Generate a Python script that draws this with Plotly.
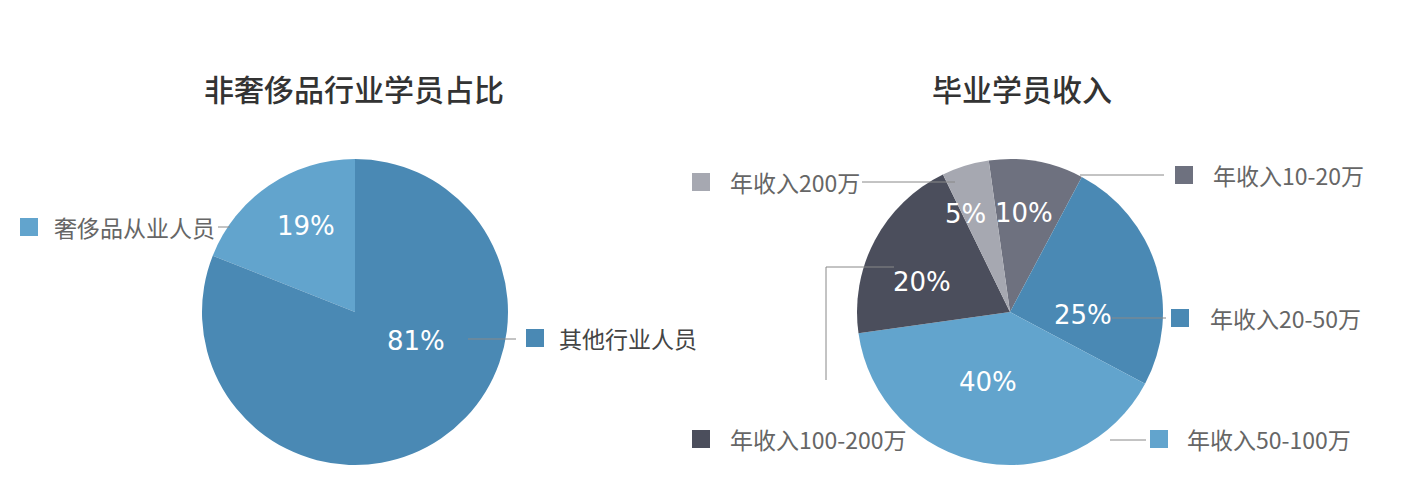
import plotly.graph_objects as go

W, H = 1402, 500
OFF = 8                      # default page body margin
FW, FH = W - 2 * OFF, H - 2 * OFF

# ---- data ----
left_title = "非奢侈品行业学员占比"
left_labels = ["奢侈品从业人员", "其他行业人员"]
left_values = [19, 81]
left_colors = ["#62a4cd", "#4a89b4"]

right_title = "毕业学员收入"
right_labels = ["年收入10-20万", "年收入20-50万", "年收入50-100万", "年收入100-200万", "年收入200万"]
right_values = [10, 25, 40, 20, 5]
right_colors = ["#6e717f", "#4a89b4", "#62a4cd", "#4b4e5c", "#a6a8b1"]

FONT = "Noto Sans CJK SC"
NUMFONT = "DejaVu Sans"


def px(x):
    return (x - OFF) / FW


def py(y):
    return 1 - (y - OFF) / FH


fig = go.Figure()

fig.add_trace(go.Pie(
    labels=left_labels, values=left_values,
    marker=dict(colors=left_colors, line=dict(width=0)),
    sort=False, direction="clockwise", rotation=-360 * left_values[0] / sum(left_values),
    domain=dict(x=[px(202), px(508)], y=[py(466), py(158)]),
    textinfo="none", hoverinfo="label+percent", showlegend=False,
))

fig.add_trace(go.Pie(
    labels=right_labels, values=right_values,
    marker=dict(colors=right_colors, line=dict(width=0)),
    sort=False, direction="clockwise", rotation=-8,
    domain=dict(x=[px(857), px(1163)], y=[py(466), py(158)]),
    textinfo="none", hoverinfo="label+percent", showlegend=False,
))

annotations = []
shapes = []

# titles
for t, x in [(left_title, 354), (right_title, 1022)]:
    annotations.append(dict(text=t, x=px(x), y=py(88), xref="paper", yref="paper",
                            showarrow=False, xanchor="center", yanchor="middle",
                            font=dict(size=30, color="#333333", family=FONT, weight=500)))

# percentage labels inside slices (label position per slice)
pct_pos = {
    left_labels[0]: (306, 226), left_labels[1]: (416, 341),
    right_labels[0]: (1024, 213), right_labels[1]: (1083, 315),
    right_labels[2]: (988, 382), right_labels[3]: (922, 282),
    right_labels[4]: (965, 214),
}
for labs, vals in [(left_labels, left_values), (right_labels, right_values)]:
    for lab, v in zip(labs, vals):
        x, y = pct_pos[lab]
        annotations.append(dict(text=f"{v}%", x=px(x), y=py(y), xref="paper", yref="paper",
                                showarrow=False, xanchor="center", yanchor="middle",
                                font=dict(size=26, color="white", family=NUMFONT)))

# legend-style callouts: (label, color, square-left-x, center-y, text-x, text color)
callouts = [
    (left_labels[0], left_colors[0], 20, 227, 52, "#666666"),
    (left_labels[1], left_colors[1], 526, 338, 557, "#444444"),
    (right_labels[4], right_colors[4], 692, 182, 728, "#666666"),
    (right_labels[0], right_colors[0], 1175, 175, 1211, "#666666"),
    (right_labels[1], right_colors[1], 1171, 318, 1208, "#666666"),
    (right_labels[3], right_colors[3], 692, 439, 728, "#666666"),
    (right_labels[2], right_colors[2], 1150, 439, 1185, "#666666"),
]
for lab, col, sx, cy, tx, tc in callouts:
    shapes.append(dict(type="rect", xref="paper", yref="paper",
                       x0=px(sx), x1=px(sx + 18), y0=py(cy + 9), y1=py(cy - 9),
                       fillcolor=col, line=dict(width=0)))
    annotations.append(dict(text=lab, x=px(tx), y=py(cy), xref="paper", yref="paper",
                            showarrow=False, xanchor="left", yanchor="middle",
                            font=dict(size=23, color=tc, family=FONT)))

# leader lines
lines = [
    [(218, 227), (230, 227)],
    [(468, 339), (516, 339)],
    [(862, 182), (955, 182)],
    [(1080, 175), (1164, 175)],
    [(1112, 318), (1166, 318)],
    [(894, 267), (826, 267), (826, 380)],
    [(1110, 440), (1146, 440)],
]
for pts in lines:
    for (x0, y0), (x1, y1) in zip(pts[:-1], pts[1:]):
        shapes.append(dict(type="line", xref="paper", yref="paper",
                           x0=px(x0), y0=py(y0), x1=px(x1), y1=py(y1),
                           line=dict(color="#888888", width=1), layer="above"))

fig.update_layout(
    width=FW, height=FH,
    margin=dict(l=0, r=0, t=0, b=0),
    paper_bgcolor="white", plot_bgcolor="white",
    annotations=annotations, shapes=shapes,
    font=dict(family=FONT),
)

fig.write_html("out.html")
